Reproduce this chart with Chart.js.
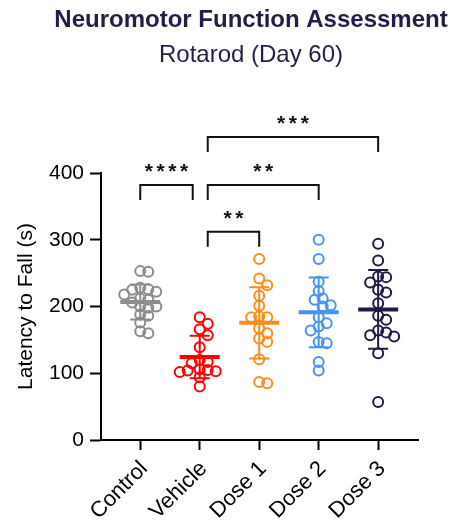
<!DOCTYPE html>
<html>
<head>
<meta charset="utf-8">
<script src="https://cdn.jsdelivr.net/npm/chart.js@4.4.1/dist/chart.umd.min.js"></script>
<style>
  html, body { margin: 0; padding: 0; background: #fff; }
</style>
</head>
<body>
<canvas id="rotarod" width="452" height="525"></canvas>
<script>
// groups + values (latency to fall, seconds)
var groups = ["Control", "Vehicle", "Dose 1", "Dose 2", "Dose 3"];
var control = [253, 252, 228, 226, 225, 222, 218, 212, 210, 206, 200, 200, 198, 188, 186, 176, 163, 160];
var vehicle = [184, 174, 166, 157, 139, 120, 117, 115, 106, 105, 104, 103, 102, 94, 80];
var dose1 = [271, 242, 232, 216, 201, 185, 184, 184, 167, 160, 152, 147, 121, 87, 85];
var dose2 = [300, 271, 237, 223, 212, 210, 202, 200, 184, 175, 170, 164, 147, 145, 117, 104];
var dose3 = [294, 269, 245, 244, 236, 225, 221, 205, 186, 180, 164, 161, 157, 155, 130, 57];
var yTicks = [0, 100, 200, 300, 400];

// significance brackets: [from, to], height (s), label
var comparisons = [[0, 1], [1, 2], [1, 3], [1, 4]];
var bracketHeights = [382, 312, 382, 454];
var bracketStars = ["****", "**", "**", "***"];

var allValues = [control, vehicle, dose1, dose2, dose3];
var colours = ["#8c8c8c", "#ff0000", "#ff8c1a", "#4a92f2", "#1f1b42"];
var navy = "#221e4a";
var fontFamily = "'Liberation Sans', Arial, sans-serif";

// simple beeswarm so circles don't pile up exactly on top of each other
function swarm(values, index) {
	var pxX = 59.5, pxY = 0.6675, dia = 8;
	var order = values.map(function (v, i) { return i; })
		.sort(function (a, b) { return values[b] - values[a]; });
	var placed = [];
	var out = [];
	order.forEach(function (i) {
		var y = values[i] * pxY;
		var steps = [0];
		for (var k = 1; k < 14; k++) { steps.push(k * dia / 2, -k * dia / 2); }
		var x = 0;
		for (var s = 0; s < steps.length; s++) {
			x = steps[s];
			var ok = placed.every(function (p) {
				var dx = p.x - x, dy = p.y - y;
				return dx * dx + dy * dy >= dia * dia;
			});
			if (ok) break;
		}
		placed.push({ x: x, y: y });
		out[i] = { x: index + x / pxX, y: values[i] };
	});
	return out;
}

function mean(a) {
	return a.reduce(function (s, v) { return s + v; }, 0) / a.length;
}
function sd(a) {
	var m = mean(a);
	return Math.sqrt(a.reduce(function (s, v) { return s + (v - m) * (v - m); }, 0) / (a.length - 1));
}

var datasets = allValues.map(function (vals, i) {
	return {
		label: groups[i],
		data: swarm(vals, i),
		borderColor: colours[i],
		backgroundColor: "rgba(0,0,0,0)",
		borderWidth: 2,
		pointRadius: 5,
		pointHoverRadius: 5
	};
});

var meanSdPlugin = {
	id: "meanSd",
	afterDatasetsDraw: function (chart) {
		var ctx = chart.ctx, xs = chart.scales.x, ys = chart.scales.y;
		ctx.save();
		allValues.forEach(function (vals, i) {
			var m = mean(vals), s = sd(vals);
			var cx = xs.getPixelForValue(i);
			var top = ys.getPixelForValue(m + s), bot = ys.getPixelForValue(m - s), my = ys.getPixelForValue(m);
			ctx.strokeStyle = colours[i];
			ctx.lineWidth = 2;
			ctx.beginPath();
			ctx.moveTo(cx, top); ctx.lineTo(cx, bot);
			ctx.moveTo(cx - 10, top); ctx.lineTo(cx + 10, top);
			ctx.moveTo(cx - 10, bot); ctx.lineTo(cx + 10, bot);
			ctx.stroke();
			ctx.lineWidth = 4;
			ctx.beginPath();
			ctx.moveTo(cx - 20, my); ctx.lineTo(cx + 20, my);
			ctx.stroke();
		});
		ctx.restore();
	}
};

var bracketPlugin = {
	id: "brackets",
	afterDraw: function (chart) {
		var ctx = chart.ctx, xs = chart.scales.x, ys = chart.scales.y;
		ctx.save();
		ctx.strokeStyle = "#111";
		ctx.fillStyle = "#111";
		ctx.lineWidth = 2;
		comparisons.forEach(function (c, k) {
			var x1 = xs.getPixelForValue(c[0]), x2 = xs.getPixelForValue(c[1]);
			// pull legs in where another bracket shares the same group
			var sharedLeft = comparisons.some(function (o, j) { return j !== k && o[1] === c[0]; });
			var sharedRight = comparisons.some(function (o, j) { return j !== k && o[0] === c[1]; });
			if (sharedLeft) x1 += 8;
			if (sharedRight) x2 -= 7;
			var y = ys.getPixelForValue(bracketHeights[k]);
			ctx.beginPath();
			ctx.moveTo(x1, y + 15); ctx.lineTo(x1, y); ctx.lineTo(x2, y); ctx.lineTo(x2, y + 15);
			ctx.stroke();
			var label = bracketStars[k];
			var mid = (x1 + x2) / 2;
			ctx.font = "bold 21px " + fontFamily;
			ctx.textAlign = "center";
			ctx.textBaseline = "middle";
			for (var n = 0; n < label.length; n++) {
				ctx.fillText("*", mid + (n - (label.length - 1) / 2) * 11.8, y - 13);
			}
		});
		ctx.restore();
	}
};

var titlePlugin = {
	id: "titles",
	afterDraw: function (chart) {
		var ctx = chart.ctx, a = chart.chartArea;
		var cx = (a.left + a.right) / 2 - 8.5;
		ctx.save();
		ctx.fillStyle = navy;
		ctx.textAlign = "center";
		ctx.textBaseline = "alphabetic";
		ctx.font = "bold 24px " + fontFamily;
		ctx.fillText("Neuromotor Function Assessment", cx, 27);
		ctx.font = "24px " + fontFamily;
		ctx.fillText("Rotarod (Day 60)", cx, 62);
		ctx.restore();
	}
};

Chart.defaults.font.family = fontFamily;
Chart.defaults.color = "#000";

var canvas = document.getElementById("rotarod").getContext("2d");
var chart = new Chart(canvas, {
	type: "scatter",
	data: { datasets: datasets },
	options: {
		responsive: false,
		animation: false,
		layout: { padding: { top: 173, right: 34, left: 14, bottom: 0 } },
		plugins: {
			legend: { display: false },
			tooltip: { enabled: false }
		},
		scales: {
			x: {
				type: "linear",
				min: -0.66,
				max: 4.67,
				afterBuildTicks: function (scale) {
					scale.ticks = groups.map(function (g, i) { return { value: i }; });
				},
				afterFit: function (scale) { scale.height = 85; },
				ticks: {
					callback: function (v) { return groups[v]; },
					minRotation: 45,
					maxRotation: 45,
					font: { size: 22 },
					color: "#000",
					padding: 6,
					labelOffset: 4
				},
				grid: { drawOnChartArea: false, tickLength: 10, tickWidth: 2, tickColor: "#000" },
				border: { color: "#000", width: 2 }
			},
			y: {
				min: 0,
				max: 400,
				afterBuildTicks: function (scale) {
					scale.ticks = yTicks.map(function (v) { return { value: v }; });
				},
				afterFit: function (scale) { scale.width = 87; },
				ticks: { font: { size: 21 }, color: "#000", padding: 6 },
				grid: { drawOnChartArea: false, tickLength: 11, tickWidth: 2, tickColor: "#000" },
				border: { color: "#000", width: 2 },
				title: {
					display: true,
					text: "Latency to Fall (s)",
					font: { size: 21 },
					color: "#000",
					padding: { top: 0, bottom: 6 }
				}
			}
		}
	},
	plugins: [meanSdPlugin, bracketPlugin, titlePlugin]
});
</script>
</body>
</html>
